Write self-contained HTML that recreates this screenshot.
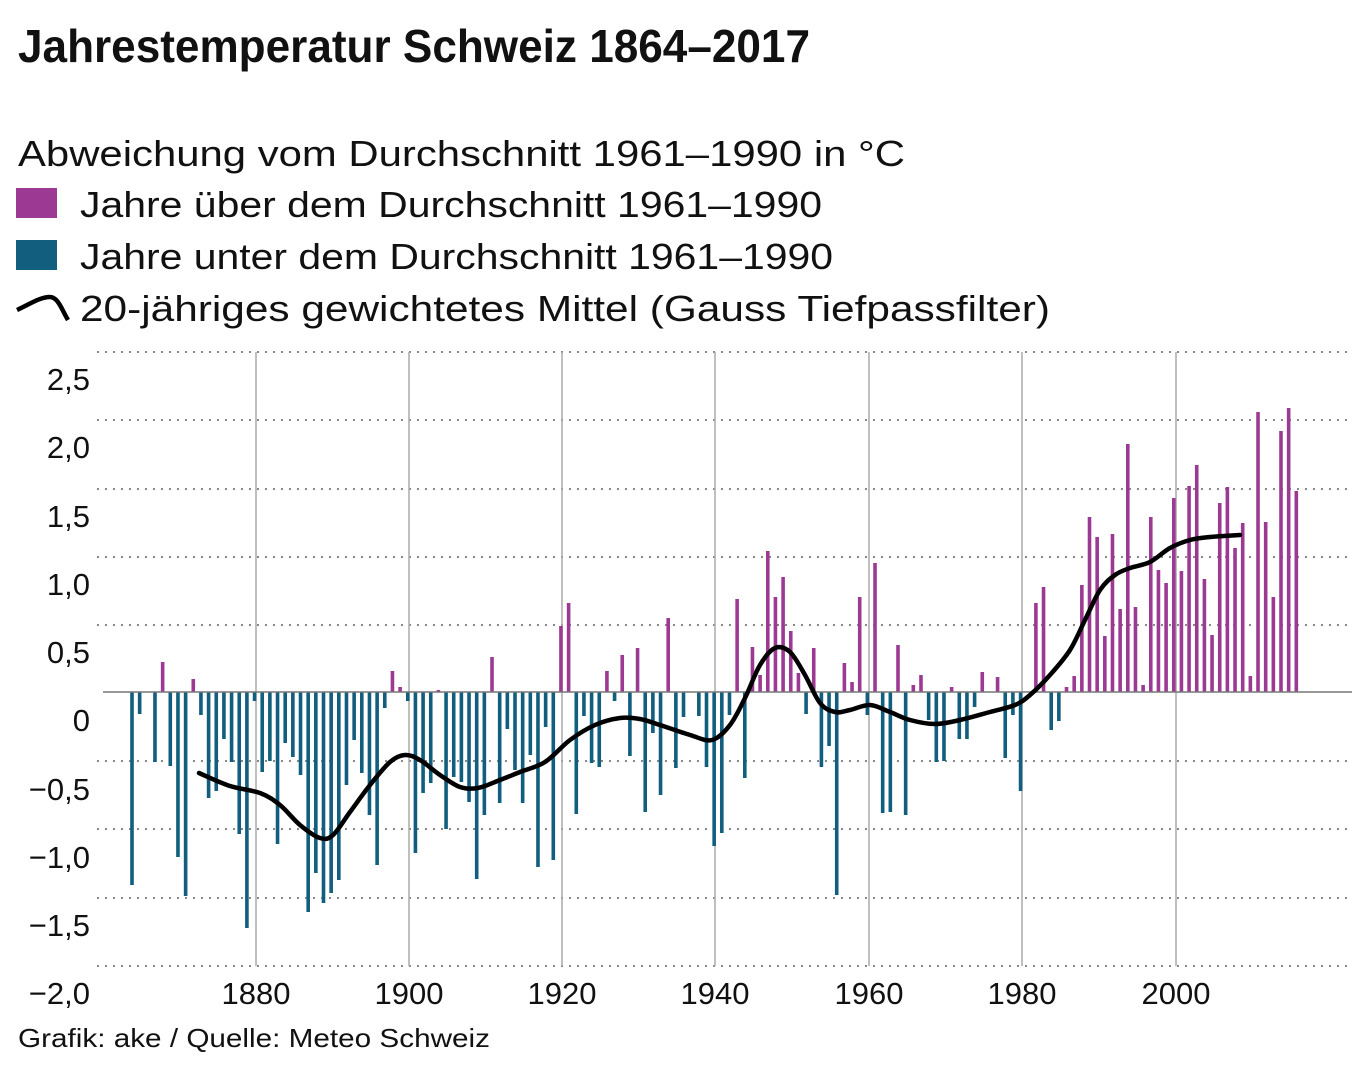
<!DOCTYPE html>
<html><head><meta charset="utf-8"><style>
html,body{margin:0;padding:0;background:#fff;}
svg{display:block;}
text{font-family:"Liberation Sans",sans-serif;fill:#111;}
</style></head><body>
<svg id="s" width="1369" height="1080" viewBox="0 0 1369 1080" xmlns="http://www.w3.org/2000/svg">
<text x="18" y="62" font-size="46" font-weight="bold" textLength="792" lengthAdjust="spacingAndGlyphs">Jahrestemperatur Schweiz 1864–2017</text>
<text x="18" y="166" font-size="36" textLength="887" lengthAdjust="spacingAndGlyphs">Abweichung vom Durchschnitt 1961–1990 in °C</text>
<rect x="16" y="188" width="41" height="30" fill="#9c3a93"/>
<text x="80" y="217" font-size="36" textLength="742" lengthAdjust="spacingAndGlyphs">Jahre über dem Durchschnitt 1961–1990</text>
<rect x="16" y="240" width="41" height="30" fill="#115e7e"/>
<text x="80" y="269" font-size="36" textLength="753" lengthAdjust="spacingAndGlyphs">Jahre unter dem Durchschnitt 1961–1990</text>
<path d="M17,310 C30,304 40,297 50,297 C58,297 62,310 68,320" stroke="#000" stroke-width="4.5" fill="none"/>
<text x="80" y="321" font-size="36" textLength="970" lengthAdjust="spacingAndGlyphs">20-jähriges gewichtetes Mittel (Gauss Tiefpassfilter)</text>
<g id="grid"></g>
<g id="bars"></g>
<line x1="103" y1="692" x2="1352" y2="692" stroke="#777" stroke-width="1.5"/>
<path id="curve" stroke="#000" stroke-width="4.5" fill="none" stroke-linejoin="round" stroke-linecap="round"/>
<g font-size="31" text-anchor="end">
<text x="90" y="390">2,5</text><text x="90" y="458">2,0</text><text x="90" y="527">1,5</text><text x="90" y="595">1,0</text><text x="90" y="663">0,5</text><text x="90" y="731">0</text><text x="90" y="800">−0,5</text><text x="90" y="868">−1,0</text><text x="90" y="936">−1,5</text><text x="90" y="1004">−2,0</text>
</g>
<g font-size="31" text-anchor="middle">
<text x="256" y="1004">1880</text><text x="409" y="1004">1900</text><text x="562" y="1004">1920</text><text x="715" y="1004">1940</text><text x="869" y="1004">1960</text><text x="1022" y="1004">1980</text><text x="1176" y="1004">2000</text>
</g>
<text x="18" y="1047" font-size="26" textLength="472" lengthAdjust="spacingAndGlyphs">Grafik: ake / Quelle: Meteo Schweiz</text>
</svg>
<script>
var NS="http://www.w3.org/2000/svg";
function el(t,a,p){var e=document.createElementNS(NS,t);for(var k in a)e.setAttribute(k,a[k]);p.appendChild(e);return e;}
var g=document.getElementById('grid');
[352,420,489,557,625,761,829,898,966].forEach(function(y){el('line',{x1:97,y1:y,x2:1352,y2:y,stroke:'#888','stroke-width':2,'stroke-dasharray':'2 6'},g);});
[256,409,562,715,869,1022,1176].forEach(function(x){el('line',{x1:x,y1:352,x2:x,y2:966,stroke:'#aaa','stroke-width':1.5},g);});
var ys=[885,714,692,762,662,766,857,896,679,715,798,791,739,762,834,928,701,772,761,844,743,757,775,912,873,903,893,880,785,740,773,815,865,708,671,687,
701,853,793,783,690,829,777,782,802,879,815,657,803,729,770,803,755,867,727,860,626,603,814,716,763,767,671,701,655,756,648,812,733,795,618,768,717,692,716,767,846,
833,715,599,778,647,675,551,597,577,631,673,714,648,767,746,895,663,682,597,715,563,813,812,645,815,685,675,720,762,761,687,739,739,707,672,692,677,758,715,791,692,603,587,730,721,
687,676,585,517,537,636,534,609,444,607,685,517,570,583,498,571,486,465,579,635,503,487,548,523,676,412,522,597,431,408,491];
var b=document.getElementById('bars');
ys.forEach(function(y,i){var x=132+i*7.66;if(Math.abs(y-692)<1)return;
var up=y<692;el('rect',{x:x-1.8,y:Math.min(y,692),width:3.6,height:Math.abs(y-692),fill:up?'#9c3a93':'#115e7e'},b);});
var pts=[[199,773],[230,786],[260,793],[280,805],[300,825],[320,838],[333,835],[350,812],[370,785],[390,762],[405,755],[420,760],[440,775],[460,787],[478,788],[500,780],[520,772],[545,762],[570,740],[595,725],[620,718],[640,719],[660,725],[690,735],[712,740],[730,725],[745,698],[760,665],[775,648],[790,652],[805,675],[820,703],[835,712],[850,710],[870,705],[890,712],[910,720],[935,724],[960,720],[990,712],[1015,705],[1030,695],[1050,675],[1070,650],[1085,620],[1100,590],[1115,575],[1130,568],[1150,562],[1170,548],[1190,540],[1210,537],[1240,535]];
var d='M'+pts[0][0]+','+pts[0][1];
for(var i=0;i<pts.length-1;i++){var p0=pts[i-1]||pts[i],p1=pts[i],p2=pts[i+1],p3=pts[i+2]||p2;
d+=' C'+(p1[0]+(p2[0]-p0[0])/6)+','+(p1[1]+(p2[1]-p0[1])/6)+' '+(p2[0]-(p3[0]-p1[0])/6)+','+(p2[1]-(p3[1]-p1[1])/6)+' '+p2[0]+','+p2[1];}
document.getElementById('curve').setAttribute('d',d);
</script>
</body></html>
